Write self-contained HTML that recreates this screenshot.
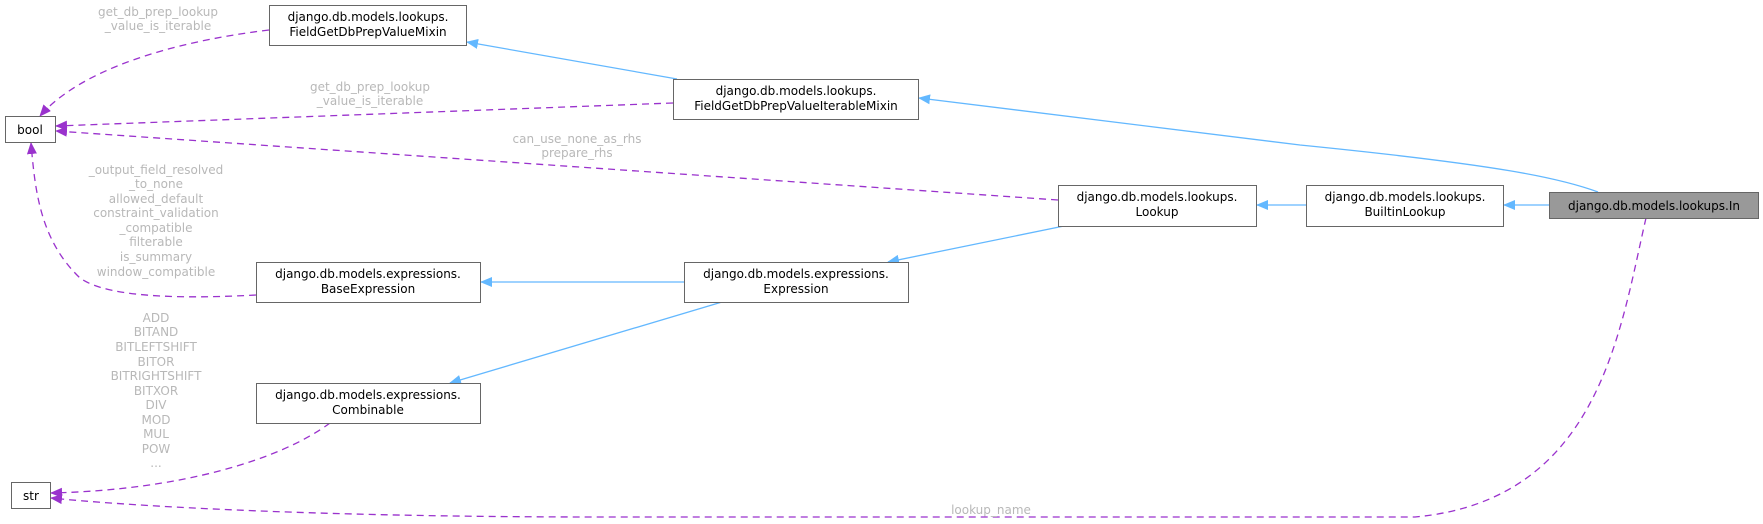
<!DOCTYPE html>
<html><head><meta charset="utf-8"><style>
html,body{margin:0;padding:0;background:#fff;}
svg{display:block;}
text{font-family:"DejaVu Sans","Liberation Sans",sans-serif;font-size:12px;}
.n{fill:#000;text-anchor:middle;}
.l{fill:#b8b8b8;text-anchor:middle;}
</style></head><body>
<svg width="1763" height="524" viewBox="0 0 1763 524" xmlns="http://www.w3.org/2000/svg">
<defs>
<marker id="b" markerWidth="12" markerHeight="10" refX="11" refY="5" orient="auto" markerUnits="userSpaceOnUse"><path d="M0,0 L12,5 L0,10 z" fill="#63b8ff"/></marker>
<marker id="p" markerWidth="12" markerHeight="10" refX="11" refY="5" orient="auto" markerUnits="userSpaceOnUse"><path d="M0,0 L12,5 L0,10 z" fill="#9a32cd"/></marker>
</defs>
<g fill="none" stroke="#63b8ff" stroke-width="1.3">
<path d="M1598,192 C1560,178 1500,165 1300,145 L919,98" marker-end="url(#b)"/>
<path d="M677,79 L467,42" marker-end="url(#b)"/>
<path d="M1549,205 L1504,205" marker-end="url(#b)"/>
<path d="M1306,205 L1257,205" marker-end="url(#b)"/>
<path d="M1064,226 L888,262" marker-end="url(#b)"/>
<path d="M684,282 L481,282" marker-end="url(#b)"/>
<path d="M722,302 L450,383" marker-end="url(#b)"/>
</g>
<g fill="none" stroke="#9a32cd" stroke-width="1.3" stroke-dasharray="7,5">
<path d="M269,30 C170,42 80,70 40,116" marker-end="url(#p)"/>
<path d="M673,103 L56,126" marker-end="url(#p)"/>
<path d="M1058,200 L56,131" marker-end="url(#p)"/>
<path d="M256,295 C200,298 110,300 80,278 C40,240 35,190 31,143" marker-end="url(#p)"/>
<path d="M330,423 C280,460 180,490 51,493" marker-end="url(#p)"/>
<path d="M1646,218 C1620,330 1600,500 1415,517 L600,517 C300,517 120,505 51,498" marker-end="url(#p)"/>
</g>
<g stroke="#666" stroke-width="1">
<rect x="269.5" y="5.5" width="197" height="40" fill="#fff"/>
<rect x="5.5" y="116.5" width="50" height="26" fill="#fff"/>
<rect x="673.5" y="79.5" width="245" height="40" fill="#fff"/>
<rect x="1058.5" y="185.5" width="198" height="41" fill="#fff"/>
<rect x="1306.5" y="185.5" width="197" height="41" fill="#fff"/>
<rect x="1549.5" y="192.5" width="209" height="26" fill="#999"/>
<rect x="256.5" y="262.5" width="224" height="40" fill="#fff"/>
<rect x="684.5" y="262.5" width="224" height="40" fill="#fff"/>
<rect x="256.5" y="383.5" width="224" height="40" fill="#fff"/>
<rect x="11.5" y="482.5" width="39" height="26" fill="#fff"/>
</g>
<text class="n" x="368" y="21">django.db.models.lookups.</text>
<text class="n" x="368" y="36">FieldGetDbPrepValueMixin</text>
<text class="n" x="30" y="134">bool</text>
<text class="n" x="796" y="95">django.db.models.lookups.</text>
<text class="n" x="796" y="110">FieldGetDbPrepValueIterableMixin</text>
<text class="n" x="1157" y="201">django.db.models.lookups.</text>
<text class="n" x="1157" y="216">Lookup</text>
<text class="n" x="1405" y="201">django.db.models.lookups.</text>
<text class="n" x="1405" y="216">BuiltinLookup</text>
<text class="n" x="1654" y="210">django.db.models.lookups.In</text>
<text class="n" x="368" y="278">django.db.models.expressions.</text>
<text class="n" x="368" y="293">BaseExpression</text>
<text class="n" x="796" y="278">django.db.models.expressions.</text>
<text class="n" x="796" y="293">Expression</text>
<text class="n" x="368" y="399">django.db.models.expressions.</text>
<text class="n" x="368" y="414">Combinable</text>
<text class="n" x="31" y="500">str</text>
<text class="l" x="158" y="16">get_db_prep_lookup</text>
<text class="l" x="158" y="30">_value_is_iterable</text>
<text class="l" x="370" y="91">get_db_prep_lookup</text>
<text class="l" x="370" y="105">_value_is_iterable</text>
<text class="l" x="577" y="143">can_use_none_as_rhs</text>
<text class="l" x="577" y="157">prepare_rhs</text>
<text class="l" x="156" y="174">_output_field_resolved</text>
<text class="l" x="156" y="188">_to_none</text>
<text class="l" x="156" y="203">allowed_default</text>
<text class="l" x="156" y="217">constraint_validation</text>
<text class="l" x="156" y="232">_compatible</text>
<text class="l" x="156" y="246">filterable</text>
<text class="l" x="156" y="261">is_summary</text>
<text class="l" x="156" y="276">window_compatible</text>
<text class="l" x="156" y="322">ADD</text>
<text class="l" x="156" y="336">BITAND</text>
<text class="l" x="156" y="351">BITLEFTSHIFT</text>
<text class="l" x="156" y="366">BITOR</text>
<text class="l" x="156" y="380">BITRIGHTSHIFT</text>
<text class="l" x="156" y="395">BITXOR</text>
<text class="l" x="156" y="409">DIV</text>
<text class="l" x="156" y="424">MOD</text>
<text class="l" x="156" y="438">MUL</text>
<text class="l" x="156" y="453">POW</text>
<text class="l" x="156" y="467">...</text>
<text class="l" x="991" y="514">lookup_name</text>
</svg>
</body></html>
